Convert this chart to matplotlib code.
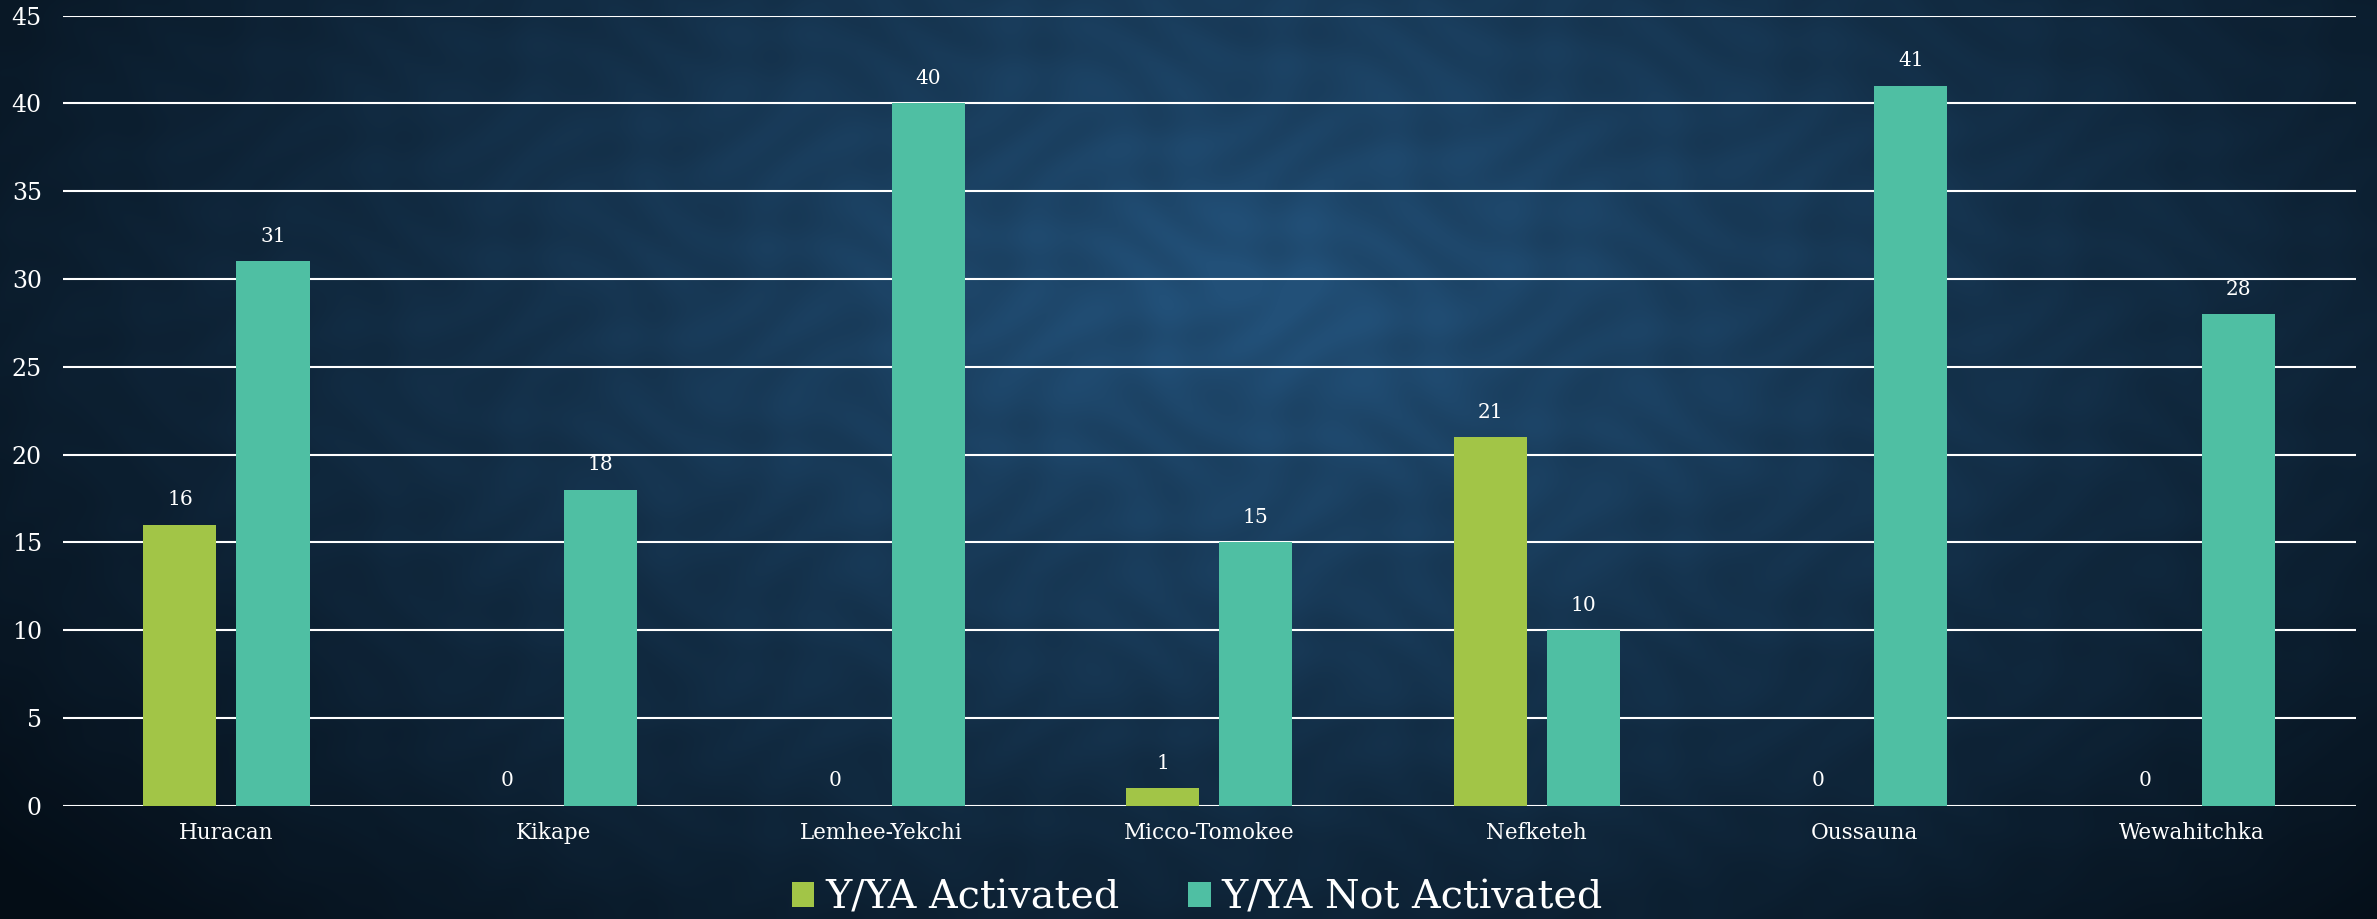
import numpy as np
import matplotlib
matplotlib.use("Agg")
import matplotlib.pyplot as plt
from matplotlib.patches import Patch

categories = ["Huracan", "Kikape", "Lemhee-Yekchi", "Micco-Tomokee", "Nefketeh", "Oussauna", "Wewahitchka"]
activated = [16, 0, 0, 1, 21, 0, 0]
not_activated = [31, 18, 40, 15, 10, 41, 28]
series_names = ["Y/YA Activated", "Y/YA Not Activated"]
yticks = [0, 5, 10, 15, 20, 25, 30, 35, 40, 45]

GREEN = "#A2C547"
TEAL = "#4FBFA3"
FONT = ["DejaVu Serif", "DejaVu Sans"]
plt.rcParams['font.family'] = FONT

W, H = 2377, 919
fig = plt.figure(figsize=(W / 100, H / 100), dpi=100)

# background: radial vignette gradient with subtle mottled texture
bg = fig.add_axes([0, 0, 1, 1], zorder=-10)
yy, xx = np.mgrid[0:H, 0:W]
cx, cy = 0.53 * W, 0.32 * H
d = np.sqrt(((xx - cx) / (0.68 * W)) ** 2 + ((yy - cy) / (1.0 * H)) ** 2)
t = np.clip(1 - d, 0, 1) ** 1.0
tex = (np.sin(xx / 23.0 + np.cos(yy / 31.0) * 2.0) * np.cos(yy / 19.0 + np.sin(xx / 41.0) * 2.0))
t = np.clip(t * (1 + 0.07 * tex), 0, 1)
dark = np.array([4, 13, 22]) / 255.0
light = np.array([34, 80, 120]) / 255.0
img = dark[None, None, :] + (light - dark)[None, None, :] * t[..., None]
bg.imshow(img, aspect='auto', extent=[0, 1, 0, 1], interpolation='bilinear')
bg.axis('off')

ax = fig.add_axes([62.7 / W, 1 - 805.7 / H, (2355.7 - 62.7) / W, (805.7 - 15.7) / H])
ax.patch.set_alpha(0)
x = np.arange(len(categories))
bw = 0.223
off = 0.142
b1 = ax.bar(x - off, activated, bw, color=GREEN, zorder=3)
b2 = ax.bar(x + off, not_activated, bw, color=TEAL, zorder=3)

for bars, vals in ((b1, activated), (b2, not_activated)):
    for rect, v in zip(bars, vals):
        ax.annotate(str(v), (rect.get_x() + rect.get_width() / 2, v),
                    xytext=(0, 18), textcoords='offset points',
                    ha='center', va='center', color='white', fontsize=14.5)

ax.set_xlim(-0.5, len(categories) - 0.5)
ax.set_ylim(0, 45)
ax.set_yticks(yticks)
ax.set_xticks(x)
ax.set_xticklabels(categories)
ax.tick_params(axis='both', length=0, colors='white')
ax.tick_params(axis='y', pad=15, labelsize=17)
ax.tick_params(axis='x', pad=12, labelsize=15.5)
ax.grid(axis='y', color='white', linewidth=1.5, zorder=1)
for s in ax.spines.values():
    s.set_visible(False)

handles = [Patch(facecolor=GREEN, edgecolor='none'), Patch(facecolor=TEAL, edgecolor='none')]
leg = fig.legend(handles, series_names, loc='center', bbox_to_anchor=(1197.5 / W, 1 - 898 / H),
                 ncol=2, frameon=False, fontsize=28.5, handlelength=0.56, handleheight=0.56,
                 handletextpad=0.28, columnspacing=1.74, borderpad=0, borderaxespad=0)
for txt in leg.get_texts():
    txt.set_color('white')

fig.savefig("out.png", dpi=100)
